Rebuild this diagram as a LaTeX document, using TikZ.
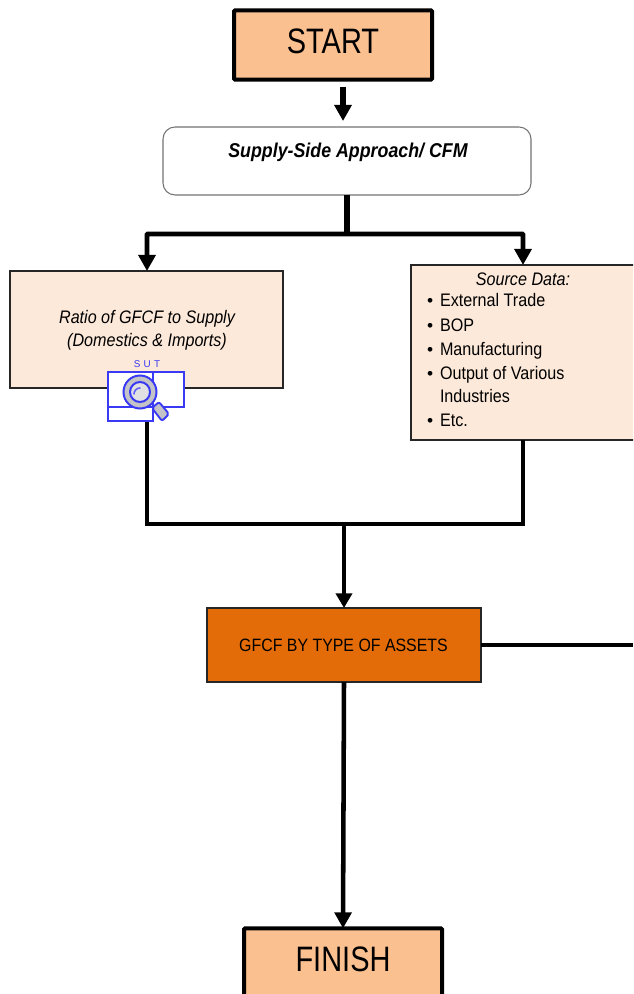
\documentclass[tikz,border=0pt]{standalone}
\usepackage{fontspec}
\setmainfont{Liberation Sans}
\newfontfamily\nar[FakeStretch=0.82]{Liberation Sans}
\newfontfamily\midf[FakeStretch=0.89]{Liberation Sans}
\usetikzlibrary{arrows.meta}
\definecolor{peach}{HTML}{FAC090}
\definecolor{lightp}{HTML}{FDE9D9}
\definecolor{orng}{HTML}{E36C09}
\definecolor{sutb}{HTML}{3A3AF5}
\definecolor{lensg}{HTML}{C4C4C8}
\tikzset{
 x=0.75pt,y=-0.75pt,
 every node/.style={inner sep=0pt,outer sep=0pt,text=black},
 bigbox/.style={draw=black,line width=3pt,fill=peach,rounded corners=0.8pt,minimum width=148.5pt,minimum height=52pt},
 softbox/.style={draw=black!55,line width=0.8pt,fill=white,rounded corners=9pt},
 paleb/.style={draw=black!85,line width=1.6pt,fill=lightp},
 orangeb/.style={draw=black!85,line width=1.2pt,fill=orng},
 conn/.style={draw=black,line width=3.4pt},
 arr/.style={conn,-{Triangle[length=12pt,width=12.5pt]}},
 arrthin/.style={draw=black,line width=3pt,-{Triangle[length=11pt,width=12pt]}},
 bigt/.style={font=\nar\fontsize{26.5pt}{30pt}\selectfont},
 listt/.style={font=\midf\fontsize{13.6pt}{17.6pt}\selectfont,anchor=base west},
 bult/.style={font=\fontsize{13pt}{17pt}\selectfont,anchor=base west},
 sutframe/.style={draw=sutb,line width=2pt,fill=white},
}
\begin{document}
\begin{tikzpicture}
\useasboundingbox (0,0) rectangle (633,994);
\clip (0,0) rectangle (633,994);
% boxes
\node[bigbox] (start) at (333,45) {};
\node[bigt] (starttext) at (333,41) {START};
\node[softbox,minimum width=276pt,minimum height=51pt] (supply) at (347,161) {};
\node[font=\midf\bfseries\itshape\fontsize{15pt}{17pt}\selectfont] (supplytext) at (348,152) {Supply-Side Approach/ CFM};
\node[paleb,minimum width=204.75pt,minimum height=87.75pt] (ratio) at (146.5,329.5) {};
\node[align=center,font=\midf\itshape\fontsize{13.6pt}{17.5pt}\selectfont] (ratiotext) at (147,330.5) {Ratio of GFCF to Supply\\(Domestics \& Imports)};
\node[paleb,minimum width=180pt,minimum height=131.25pt] (source) at (531,352.5) {};
\node[font=\midf\itshape\fontsize{13.6pt}{17pt}\selectfont] (sourcetitle) at (523,279) {Source Data:};
\node[orangeb,minimum width=205.5pt,minimum height=55.5pt] (gfcf) at (344,645) {};
\node[font=\midf\fontsize{13.4pt}{16pt}\selectfont] (gfcftext) at (343.5,645) {GFCF BY TYPE OF ASSETS};
\node[bigbox,minimum height=58pt] (finish) at (343,967) {};
\node[bigt] (finishtext) at (343,959) {FINISH};
% list
\node[bult] (b1) at (427,307) {•};\node[listt] (l1) at (440,307) {External Trade};
\node[bult] (b2) at (427,331) {•};\node[listt] (l2) at (440,331) {BOP};
\node[bult] (b3) at (427,355) {•};\node[listt] (l3) at (440,355) {Manufacturing};
\node[bult] (b4) at (427,379) {•};\node[listt] (l4) at (440,379) {Output of Various};
\node[listt] (l5) at (440,402) {Industries};
\node[bult] (b6) at (427,426) {•};\node[listt] (l6) at (440,426) {Etc.};
% connectors
\coordinate (split) at (347,234);
\coordinate (join) at (344,524);
\coordinate (exitr) at (633,645);
\coordinate (ratioin) at (147,271);
\coordinate (ratioout) at (147,388);
\coordinate (srcin) at (523,265);
\coordinate (srcout) at (523,440);
\draw[arr,line width=4.3pt,shorten <=5.2pt,shorten >=2pt] ([xshift=7.5pt]start.south) -- ++(0,44);
\draw[conn,line width=3.8pt] (supply.south) -- (split);
\draw[arr,rounded corners=0.5pt] (split) -| (ratioin);
\draw[arr,rounded corners=0.5pt] (split) -| (srcin);
\draw[conn] (ratioout) |- (join);
\draw[conn] (srcout) |- (join);
\draw[arrthin] (join) -- (gfcf.north);
\draw[conn] (gfcf.east) -- (exitr);
\draw[arr] (gfcf.south) -- (finish.north);
% SUT icon
\node[font=\fontsize{7.4pt}{8pt}\selectfont,text=sutb] (sut) at (147,364) {S\,\,U\,\,T};
\draw[sutframe] (108,372) rectangle (153,407);
\draw[sutframe] (153,372) rectangle (184,407);
\draw[sutframe] (108,407) rectangle (153,421);
\draw[draw=sutb,line width=1.4pt,fill=lensg,rounded corners=1.5pt] (152,408) -- (159,402) -- (169,414) -- (162,421) -- cycle;
\draw[draw=sutb,line width=1.5pt,fill=lensg] (140,392) circle (16.5);
\draw[draw=sutb,line width=1.5pt,fill=lensg!50] (140,392) circle (10);
\draw[draw=sutb!80,line width=1.2pt,line cap=round] (134,394) arc[start angle=180,end angle=270,radius=6];
\end{tikzpicture}
\end{document}
